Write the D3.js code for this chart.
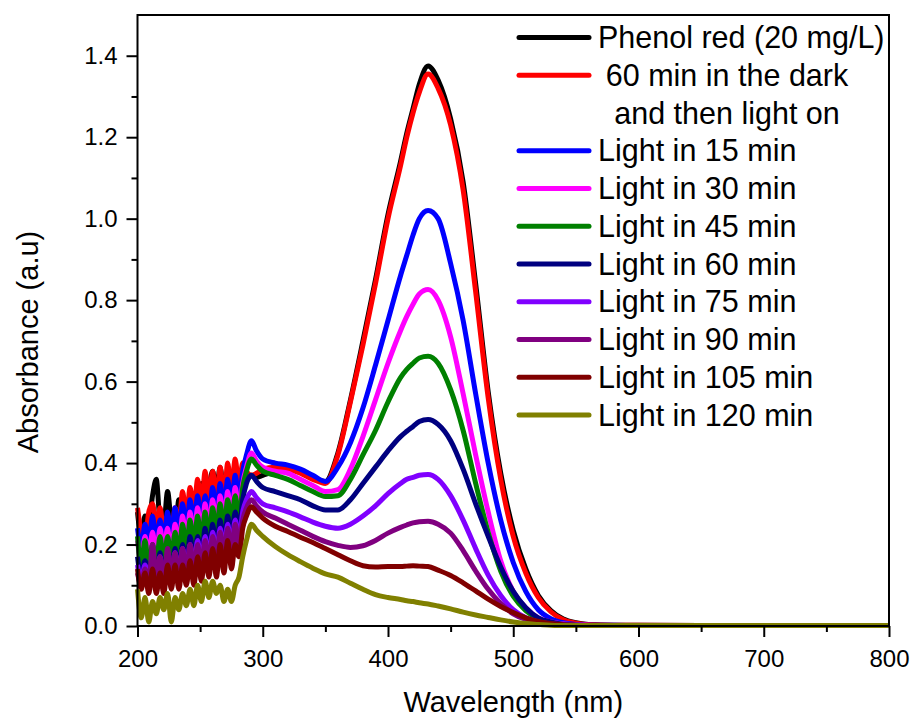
<!DOCTYPE html>
<html>
<head>
<meta charset="utf-8">
<script src="https://cdn.jsdelivr.net/npm/d3@7"></script>
<style>
  body { margin: 0; background: #fff; }
  text { font-family: "Liberation Sans", Arial, sans-serif; fill: #000; }
</style>
</head>
<body>
<div id="chart"></div>
<script>
// wavelength grid: noisy UV part, then the smooth part
const wlNoise = [200,203,206,209,212,215,218,221,224,227,230,233,236,239,242,245,248,251,254,257,260,263,266,269,272,275,278,281,284,287];
const wlSmooth = [291,295,300,310,320,330,340,350,360,370,380,390,400,410,415,420,425,432,440,450,460,470,480,490,500,510,520,530,540,550,560,580,600,700,800];

const seriesNames = ['Phenol red (20 mg/L)', ' 60 min in the dark', 'Light in 15 min', 'Light in 30 min', 'Light in 45 min',
  'Light in 60 min', 'Light in 75 min', 'Light in 90 min', 'Light in 105 min', 'Light in 120 min'];
const seriesColors = ['#000000', '#ff0000', '#0000ff', '#ff00ff', '#008000', '#000080', '#8000ff', '#800080', '#800000', '#808000'];

const phenolNoise = [0.28,0.22,0.27,0.25,0.32,0.36,0.26,0.25,0.33,0.25,0.22,0.31,0.25,0.27,0.30,0.26,0.33,0.35,0.30,0.34,0.38,0.33,0.39,0.32,0.36,0.31,0.37,0.33,0.37,0.36];
const phenolSmooth = [0.37,0.365,0.37,0.38,0.385,0.38,0.365,0.355,0.425,0.555,0.70,0.85,1.01,1.14,1.21,1.27,1.33,1.375,1.34,1.245,1.09,0.84,0.575,0.375,0.235,0.14,0.075,0.038,0.017,0.008,0.004,0.002,0.002,0.001,0.001];
const darkNoise = [0.29,0.23,0.21,0.28,0.30,0.24,0.29,0.23,0.27,0.21,0.29,0.24,0.33,0.26,0.34,0.28,0.36,0.29,0.38,0.31,0.38,0.30,0.39,0.30,0.40,0.33,0.41,0.34,0.40,0.38];
const darkSmooth = [0.37,0.375,0.385,0.39,0.385,0.375,0.36,0.35,0.42,0.55,0.69,0.84,1.0,1.13,1.2,1.26,1.31,1.355,1.32,1.23,1.07,0.82,0.56,0.36,0.22,0.13,0.07,0.035,0.015,0.007,0.003,0.002,0.002,0.001,0.001];
const l15Noise = [0.24,0.19,0.25,0.20,0.27,0.20,0.26,0.20,0.28,0.21,0.29,0.22,0.30,0.23,0.31,0.24,0.32,0.25,0.32,0.26,0.34,0.27,0.35,0.28,0.36,0.29,0.37,0.31,0.38,0.42];
const l15Smooth = [0.455,0.43,0.41,0.40,0.395,0.385,0.37,0.355,0.39,0.45,0.535,0.64,0.75,0.86,0.91,0.96,1.0,1.02,1.0,0.89,0.75,0.57,0.40,0.26,0.156,0.085,0.04,0.018,0.008,0.004,0.002,0.002,0.001,0.001,0.001];
const l30Noise = [0.21,0.16,0.22,0.17,0.23,0.17,0.24,0.18,0.24,0.17,0.25,0.19,0.27,0.20,0.28,0.21,0.29,0.22,0.30,0.23,0.31,0.24,0.32,0.25,0.33,0.26,0.34,0.28,0.35,0.39];
const l30Smooth = [0.425,0.405,0.39,0.38,0.375,0.36,0.345,0.33,0.335,0.385,0.465,0.555,0.645,0.725,0.76,0.79,0.815,0.826,0.80,0.71,0.57,0.42,0.28,0.16,0.085,0.045,0.02,0.01,0.005,0.003,0.002,0.001,0.001,0.001,0.001];
const l45Noise = [0.22,0.15,0.21,0.14,0.20,0.15,0.22,0.15,0.22,0.16,0.23,0.17,0.25,0.18,0.26,0.19,0.27,0.20,0.28,0.21,0.29,0.22,0.30,0.23,0.31,0.25,0.32,0.26,0.34,0.38];
const l45Smooth = [0.41,0.395,0.38,0.37,0.36,0.345,0.33,0.318,0.32,0.36,0.42,0.48,0.55,0.61,0.63,0.645,0.658,0.662,0.645,0.58,0.48,0.35,0.23,0.135,0.073,0.038,0.018,0.008,0.004,0.002,0.001,0.001,0.001,0.001,0.001];
const l60Noise = [0.17,0.12,0.16,0.12,0.17,0.12,0.18,0.12,0.18,0.13,0.19,0.13,0.20,0.14,0.22,0.15,0.22,0.16,0.24,0.17,0.25,0.18,0.26,0.19,0.27,0.21,0.28,0.23,0.31,0.35];
const l60Smooth = [0.37,0.355,0.34,0.33,0.32,0.31,0.295,0.285,0.285,0.31,0.35,0.39,0.43,0.465,0.478,0.49,0.502,0.507,0.495,0.455,0.385,0.30,0.22,0.145,0.085,0.045,0.02,0.01,0.004,0.002,0.001,0.001,0.001,0.001,0.001];
const l75Noise = [0.15,0.11,0.15,0.11,0.16,0.11,0.17,0.11,0.17,0.12,0.18,0.12,0.19,0.13,0.20,0.14,0.21,0.15,0.22,0.16,0.23,0.17,0.24,0.18,0.25,0.19,0.26,0.21,0.28,0.31];
const l75Smooth = [0.33,0.315,0.30,0.29,0.28,0.268,0.255,0.245,0.24,0.25,0.27,0.295,0.325,0.35,0.36,0.365,0.37,0.372,0.36,0.32,0.26,0.19,0.125,0.075,0.04,0.02,0.01,0.005,0.003,0.002,0.001,0.001,0.001,0.001,0.001];
const l90Noise = [0.13,0.10,0.14,0.10,0.20,0.11,0.17,0.10,0.19,0.11,0.18,0.11,0.19,0.12,0.20,0.13,0.20,0.14,0.21,0.15,0.22,0.16,0.23,0.17,0.24,0.18,0.25,0.20,0.26,0.29];
const l90Smooth = [0.31,0.295,0.28,0.265,0.25,0.235,0.22,0.207,0.198,0.193,0.197,0.21,0.228,0.242,0.248,0.253,0.256,0.257,0.25,0.228,0.185,0.135,0.09,0.055,0.03,0.016,0.008,0.004,0.002,0.001,0.001,0.001,0.001,0.001,0.001];
const l105Noise = [0.14,0.09,0.13,0.08,0.14,0.08,0.13,0.08,0.15,0.09,0.15,0.09,0.15,0.10,0.16,0.10,0.17,0.11,0.18,0.12,0.19,0.12,0.20,0.13,0.21,0.14,0.20,0.17,0.24,0.27];
const l105Smooth = [0.293,0.28,0.265,0.245,0.232,0.218,0.205,0.19,0.175,0.16,0.148,0.145,0.146,0.146,0.147,0.148,0.147,0.146,0.137,0.124,0.106,0.086,0.066,0.048,0.033,0.02,0.011,0.006,0.003,0.002,0.001,0.001,0.001,0.001,0.001];
const l120Noise = [0.09,0.02,0.07,0.01,0.06,0.03,0.07,0.04,0.08,0.01,0.07,0.04,0.08,0.05,0.09,0.05,0.10,0.06,0.11,0.07,0.11,0.08,0.10,0.06,0.09,0.06,0.10,0.12,0.17,0.21];
const l120Smooth = [0.25,0.235,0.22,0.195,0.175,0.158,0.142,0.128,0.12,0.105,0.09,0.077,0.07,0.065,0.062,0.06,0.057,0.054,0.049,0.042,0.034,0.027,0.021,0.015,0.01,0.006,0.004,0.002,0.001,0.001,0.001,0.001,0.001,0.001,0.001];

const xTicks = [200, 300, 400, 500, 600, 700, 800];
const yTicks = [0.0, 0.2, 0.4, 0.6, 0.8, 1.0, 1.2, 1.4];

const wavelength = wlNoise.concat(wlSmooth);
const seriesValues = [
  phenolNoise.concat(phenolSmooth), darkNoise.concat(darkSmooth), l15Noise.concat(l15Smooth),
  l30Noise.concat(l30Smooth), l45Noise.concat(l45Smooth), l60Noise.concat(l60Smooth),
  l75Noise.concat(l75Smooth), l90Noise.concat(l90Smooth), l105Noise.concat(l105Smooth), l120Noise.concat(l120Smooth)
];

const svgWidth = 915;
const svgHeight = 723;
const margin = { top: 15, right: 26, bottom: 97, left: 137.5 };
const width = svgWidth - margin.left - margin.right;
const height = svgHeight - margin.top - margin.bottom;

const svg = d3.select('#chart')
    .append('svg')
    .attr('width', svgWidth)
    .attr('height', svgHeight);

const g = svg.append('g')
    .attr('transform', 'translate(' + margin.left + ',' + margin.top + ')');

const x = d3.scaleLinear().domain([200, 800]).range([0, width]);
const y = d3.scaleLinear().domain([0, 1.5]).range([height, 0]);

const line = d3.line()
    .x(d => x(d[0]))
    .y(d => y(d[1]))
    .curve(d3.curveMonotoneX);

seriesValues.forEach((vals, i) => {
    g.append('path')
        .datum(wavelength.map((w, j) => [w, vals[j]]))
        .attr('fill', 'none')
        .attr('stroke', seriesColors[i])
        .attr('stroke-width', 5)
        .attr('stroke-linejoin', 'round')
        .attr('d', line);
});

// frame
g.append('rect')
    .attr('width', width)
    .attr('height', height)
    .attr('fill', 'none')
    .attr('stroke', '#000')
    .attr('stroke-width', 2);

// minor ticks
g.append('g')
    .attr('transform', 'translate(0,' + height + ')')
    .call(d3.axisBottom(x).tickValues([250, 350, 450, 550, 650, 750]).tickSize(6).tickFormat(''))
    .call(a => a.select('.domain').remove())
    .call(a => a.selectAll('line').attr('stroke-width', 2));
g.append('g')
    .call(d3.axisLeft(y).tickValues([0.1, 0.3, 0.5, 0.7, 0.9, 1.1, 1.3]).tickSize(6).tickFormat(''))
    .call(a => a.select('.domain').remove())
    .call(a => a.selectAll('line').attr('stroke-width', 2));

// major ticks
g.append('g')
    .attr('transform', 'translate(0,' + height + ')')
    .call(d3.axisBottom(x).tickValues(xTicks).tickSize(11).tickPadding(13).tickFormat(d3.format('d')))
    .call(a => a.select('.domain').remove())
    .call(a => a.selectAll('line').attr('stroke-width', 2))
    .call(a => a.selectAll('text').attr('font-size', 24).attr('font-family', '"Liberation Sans", Arial, sans-serif'));
g.append('g')
    .call(d3.axisLeft(y).tickValues(yTicks).tickSize(11).tickPadding(9).tickFormat(d3.format('.1f')))
    .call(a => a.select('.domain').remove())
    .call(a => a.selectAll('line').attr('stroke-width', 2))
    .call(a => a.selectAll('text').attr('font-size', 24).attr('font-family', '"Liberation Sans", Arial, sans-serif'));

// axis titles
svg.append('text')
    .attr('x', margin.left + width / 2)
    .attr('y', 712)
    .attr('text-anchor', 'middle')
    .style('font-size', '29px')
    .text('Wavelength (nm)');

svg.append('text')
    .attr('transform', 'translate(38,' + 342 + ') rotate(-90)')
    .attr('text-anchor', 'middle')
    .style('font-size', '29px')
    .text('Absorbance (a.u)');

// legend
const legendRow = i => 37.5 + i * 37.75;
const legend = svg.append('g');
seriesNames.forEach((name, i) => {
    const row = i < 2 ? i : i + 1;
    const ly = legendRow(row);
    legend.append('line')
        .attr('x1', 519).attr('x2', 589)
        .attr('y1', ly).attr('y2', ly)
        .attr('stroke', seriesColors[i])
        .attr('stroke-width', 5)
        .attr('stroke-linecap', 'round');
    const t = legend.append('text')
        .attr('y', ly + 10.5)
        .style('font-size', '30.5px');
    if (i === 1) {
        t.attr('x', 727).attr('text-anchor', 'middle').text(name.trim());
    } else {
        t.attr('x', 598).text(name);
    }
});
legend.append('text')
    .attr('x', 727)
    .attr('y', legendRow(2) + 10.5)
    .attr('text-anchor', 'middle')
    .style('font-size', '30.5px')
    .text('and then light on');
</script>
</body>
</html>
